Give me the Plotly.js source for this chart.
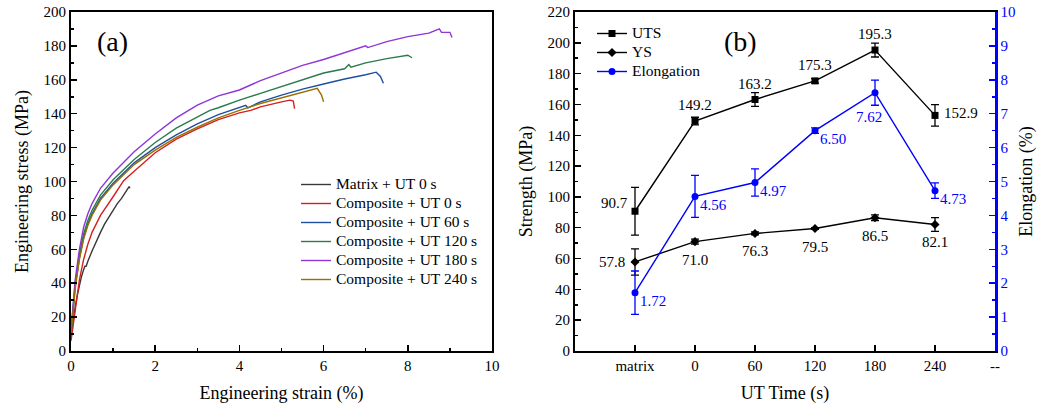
<!DOCTYPE html>
<html>
<head>
<meta charset="utf-8">
<script src="https://cdn.plot.ly/plotly-3.0.1.min.js"></script>
<style>html,body{margin:0;padding:0;background:#fff;}#chart{width:1037px;height:407px;}</style>
</head>
<body>
<div id="chart"></div>
<script>
// ---------- Panel (a): stress-strain curves ----------
const seriesNames = ["Matrix + UT 0 s","Composite + UT 0 s","Composite + UT 60 s","Composite + UT 120 s","Composite + UT 180 s","Composite + UT 240 s"];
const seriesColors = ["#383838","#d41f1f","#1f4fa0","#2a7a4b","#8e35d6","#9a7000"];

const matrixStrain = [0,0.05,0.1,0.15,0.2,0.25,0.3,0.33,0.36,0.4,0.5,0.6,0.7,0.8,0.9,1.0,1.1,1.2,1.3,1.38,1.4];
const matrixStress = [8,18,26,33,39,44,48,50,50,53,59,65,70,75,79,83,87,90,94,97,96];

const ut0Strain = [0,0.05,0.1,0.2,0.3,0.4,0.5,0.7,1.0,1.25,1.5,2.0,2.5,3.0,3.5,4.0,4.27,4.5,5.0,5.2,5.28,5.31];
const ut0Stress = [6,15,26,42,54,63,70,80,91,100.5,106,117,125,131,136.5,140.5,142,144,147,148,147.5,143];

const ut60Strain = [0,0.05,0.1,0.2,0.3,0.4,0.5,0.7,1.0,1.5,2.0,2.5,3.0,3.5,4.0,4.15,4.2,4.5,5.0,5.5,6.0,6.5,7.0,7.25,7.35,7.42];
const ut60Stress = [10,25,38,55,67,75,81,90,99,111,120,127.5,134,139.5,144,145,143.5,147,151,154.5,157.5,160.5,163,164.5,162,158];

const ut120Strain = [0,0.05,0.1,0.2,0.3,0.4,0.5,0.7,1.0,1.5,2.0,2.5,3.0,3.3,3.5,4.0,4.5,5.0,5.5,6.0,6.5,6.6,6.65,7.0,7.5,8.0,8.1];
const ut120Stress = [11,26,40,57,69,77,83,92,101,113,123,131.5,138,142,143.5,148,152,156,160,164,166.5,169,167.5,170,172.5,174.5,173];

const ut180Strain = [0,0.05,0.1,0.2,0.3,0.4,0.5,0.7,1.0,1.5,2.0,2.5,3.0,3.5,4.0,4.5,5.0,5.5,6.0,6.5,7.0,7.05,7.5,8.0,8.5,8.75,8.8,9.0,9.05];
const ut180Stress = [12,28,42,60,73,81,87,96,105,117.5,128,137.5,145,150.5,154,159.5,164,168.5,172,176,180,179,182.5,185.5,187.5,190,188,188,185];

const ut240Strain = [0,0.05,0.1,0.2,0.3,0.4,0.5,0.7,1.0,1.5,2.0,2.5,3.0,3.5,4.0,4.5,5.0,5.5,5.85,5.95,6.0];
const ut240Stress = [10,24,37,54,66,74,80,89,98,110,118.5,126,132,137.5,142,146,149.5,153,155,151,147];

// ---------- Panel (b): strength / elongation vs UT time ----------
const utTimeLabels = ["matrix","0","60","120","180","240","--"];
const utPos = [1,2,3,4,5,6];
const uts = [90.7,149.2,163.2,175.3,195.3,152.9];
const utsErr = [15.5,2.5,4.5,1.5,4.5,7.0];
const ys = [57.8,71.0,76.3,79.5,86.5,82.1];
const ysErr = [8.5,1.6,1.0,0.6,1.8,4.5];
const elong = [1.72,4.56,4.97,6.50,7.62,4.73];
const elongErr = [0.64,0.62,0.40,0.08,0.37,0.23];
const panelBNames = ["UTS","YS","Elongation"];

const FONT = "Liberation Serif, DejaVu Serif";
const curveX = [matrixStrain,ut0Strain,ut60Strain,ut120Strain,ut180Strain,ut240Strain];
const curveY = [matrixStress,ut0Stress,ut60Stress,ut120Stress,ut180Stress,ut240Stress];
const big = s => '<span style="font-size:15.5px">' + s + '</span>';

const traces = [];
for (let i = 0; i < seriesNames.length; i++) {
  traces.push({
    x: curveX[i], y: curveY[i], type: "scatter", mode: "lines", name: big(seriesNames[i]),
    line: {color: seriesColors[i], width: 1.4}, xaxis: "x", yaxis: "y", legend: "legend"
  });
}
traces.push({
  x: utPos, y: uts, type: "scatter", mode: "lines+markers", name: big(panelBNames[0]),
  line: {color: "#000", width: 1.4}, marker: {symbol: "square", size: 7, color: "#000"},
  error_y: {type: "data", array: utsErr, visible: true, color: "#000", thickness: 1.3, width: 4},
  xaxis: "x2", yaxis: "y2", legend: "legend2"
});
traces.push({
  x: utPos, y: ys, type: "scatter", mode: "lines+markers", name: big(panelBNames[1]),
  line: {color: "#000", width: 1.4}, marker: {symbol: "diamond", size: 7, color: "#000"},
  error_y: {type: "data", array: ysErr, visible: true, color: "#000", thickness: 1.3, width: 4},
  xaxis: "x2", yaxis: "y2", legend: "legend2"
});
traces.push({
  x: utPos, y: elong, type: "scatter", mode: "lines+markers", name: big(panelBNames[2]),
  line: {color: "#0000ff", width: 1.4}, marker: {symbol: "circle", size: 7, color: "#0000ff"},
  error_y: {type: "data", array: elongErr, visible: true, color: "#0000ff", thickness: 1.3, width: 4},
  xaxis: "x2", yaxis: "y3", legend: "legend2"
});

const W = 1037, H = 407;
const px = v => v / W, py = v => 1 - v / H;

const axBase = {
  showgrid: false, zeroline: false, showline: true, linecolor: "#000", linewidth: 2,
  ticks: "inside", ticklen: 6, tickwidth: 1.5, tickcolor: "#000",
  tickfont: {family: FONT, size: 15, color: "#000"}
};

const annotations = [];
const utsShift = [[-5,8,"right","middle"],[0,6,"center","bottom"],[0,6,"center","bottom"],[0,6,"center","bottom"],[0,6,"center","bottom"],[7,2,"left","middle"]];
const ysShift = [[-8,0,"right","middle"],[0,-8,"center","top"],[0,-8,"center","top"],[0,-8,"center","top"],[0,-8,"center","top"],[0,-8,"center","top"]];
const elShift = [[3,-8,"left","middle"],[3,-9,"left","middle"],[3,-8,"left","middle"],[3,-8,"left","middle"],[-6,-24,"center","middle"],[3,-8,"left","middle"]];
for (let i = 0; i < utPos.length; i++) {
  annotations.push({x: utPos[i], y: uts[i], xref: "x2", yref: "y2", text: uts[i].toFixed(1), showarrow: false,
    xshift: utsShift[i][0], yshift: utsShift[i][1], xanchor: utsShift[i][2], yanchor: utsShift[i][3],
    font: {family: FONT, size: 15, color: "#000"}});
  annotations.push({x: utPos[i], y: ys[i], xref: "x2", yref: "y2", text: ys[i].toFixed(1), showarrow: false,
    xshift: ysShift[i][0], yshift: ysShift[i][1], xanchor: ysShift[i][2], yanchor: ysShift[i][3],
    font: {family: FONT, size: 15, color: "#000"}});
  annotations.push({x: utPos[i], y: elong[i], xref: "x2", yref: "y3", text: elong[i].toFixed(2), showarrow: false,
    xshift: elShift[i][0], yshift: elShift[i][1], xanchor: elShift[i][2], yanchor: elShift[i][3],
    font: {family: FONT, size: 15, color: "#0000ff"}});
}
annotations.push({x: px(112), y: py(42), xref: "paper", yref: "paper", text: "(a)", showarrow: false,
  xanchor: "center", yanchor: "middle", font: {family: FONT, size: 28, color: "#000"}});
annotations.push({x: px(740), y: py(42), xref: "paper", yref: "paper", text: "(b)", showarrow: false,
  xanchor: "center", yanchor: "middle", font: {family: FONT, size: 28, color: "#000"}});

const layout = {
  width: W, height: H, margin: {l: 0, r: 0, t: 0, b: 0},
  paper_bgcolor: "#fff", plot_bgcolor: "#fff",
  font: {family: FONT, color: "#000"},
  xaxis: Object.assign({}, axBase, {
    domain: [px(71), px(492)], range: [0, 10], dtick: 2, tick0: 0, mirror: true, anchor: "y",
    minor: {ticks: "inside", ticklen: 3, dtick: 1, tickcolor: "#000"},
    title: {text: "Engineering strain (%)", font: {family: FONT, size: 18}, standoff: 13}
  }),
  yaxis: Object.assign({}, axBase, {
    domain: [py(351), py(12)], range: [0, 200], dtick: 20, mirror: true, anchor: "x",
    minor: {ticks: "inside", ticklen: 3, dtick: 10, tickcolor: "#000"},
    title: {text: "Engineering stress (MPa)", font: {family: FONT, size: 18}, standoff: 10}
  }),
  xaxis2: Object.assign({}, axBase, {
    domain: [px(575), px(995)], range: [0, 7], tickvals: [1,2,3,4,5,6,7], ticktext: utTimeLabels,
    mirror: true, anchor: "y2",
    title: {text: "UT Time (s)", font: {family: FONT, size: 18}, standoff: 13}
  }),
  yaxis2: Object.assign({}, axBase, {
    domain: [py(351), py(12)], range: [0, 220], dtick: 20, anchor: "x2",
    minor: {ticks: "inside", ticklen: 3, dtick: 10, tickcolor: "#000"},
    title: {text: "Strength (MPa)", font: {family: FONT, size: 18}, standoff: 10}
  }),
  yaxis3: Object.assign({}, axBase, {
    overlaying: "y2", side: "right", anchor: "x2", range: [0, 10], dtick: 1,
    linecolor: "#0000ff", tickcolor: "#0000ff", linewidth: 2.5,
    tickfont: {family: FONT, size: 15, color: "#0000ff"},
    minor: {ticks: "inside", ticklen: 3, dtick: 0.5, tickcolor: "#0000ff"},
    title: {text: "Elongation (%)", font: {family: FONT, size: 18, color: "#000"}, standoff: 25}
  }),
  legend: {x: px(296), y: py(170), xanchor: "left", yanchor: "top", bgcolor: "rgba(0,0,0,0)",
    font: {family: FONT, size: 12, color: "#000"}, tracegroupgap: 0, itemwidth: 30},
  legend2: {x: px(592), y: py(19), xanchor: "left", yanchor: "top", bgcolor: "rgba(0,0,0,0)",
    font: {family: FONT, size: 12, color: "#000"}, tracegroupgap: 0, itemwidth: 30},
  annotations: annotations,
  showlegend: true
};

Plotly.newPlot("chart", traces, layout, {displayModeBar: false, staticPlot: true});
</script>
</body>
</html>
